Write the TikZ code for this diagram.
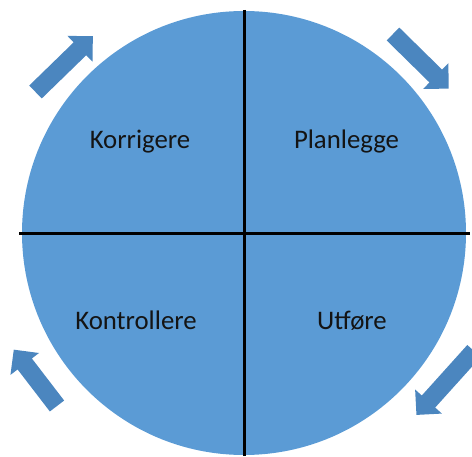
\documentclass[tikz,border=0pt]{standalone}
\usepackage{fontspec}
\setmainfont{Carlito}
\definecolor{circfill}{HTML}{5B9BD5}
\definecolor{arrfill}{HTML}{4B86BF}
\definecolor{txt}{HTML}{141414}
\tikzset{
  quadlabel/.style={anchor=base, text=txt, font=\fontsize{26.8}{32}\selectfont, inner sep=0pt},
  divline/.style={line width=3pt, black},
  blockarrow/.style={fill=arrfill, draw=none},
  pics/bigarrow/.style={code={
    \fill[blockarrow] (0,-9) -- (#1-18,-9) -- (#1-18,-18) -- (#1,0) -- (#1-18,18) -- (#1-18,9) -- (0,9) -- cycle;
  }}
}
\begin{document}
\begin{tikzpicture}[x=1pt,y=1pt]
\useasboundingbox (0,0) rectangle (472,456);
\clip (0,0) rectangle (472,456);
\node[circle, fill=circfill, minimum size=444pt, inner sep=0pt] (circ) at (244,223) {};
\coordinate (lft) at (19,222);
\coordinate (rgt) at (470,222);
\coordinate (top) at (244.5,446);
\coordinate (bot) at (244.5,0);
\draw[divline] (lft) -- (rgt);
\draw[divline] (top) -- (bot);
\node[quadlabel] (korr) at (140,307) {Korrigere};
\node[quadlabel] (plan) at (346.5,307) {Planlegge};
\node[quadlabel] (kont) at (136,126) {Kontrollere};
\node[quadlabel] (utf) at (352,126) {Utføre};
\pic[shift={(35.5,364)}, rotate=44.2] {bigarrow=80};
\pic[shift={(393,422)}, rotate=-44.5] {bigarrow=78};
\pic[shift={(57,50)}, rotate=127.5] {bigarrow=71};
\pic[shift={(474,105)}, rotate=228] {bigarrow=86};
\end{tikzpicture}
\end{document}
